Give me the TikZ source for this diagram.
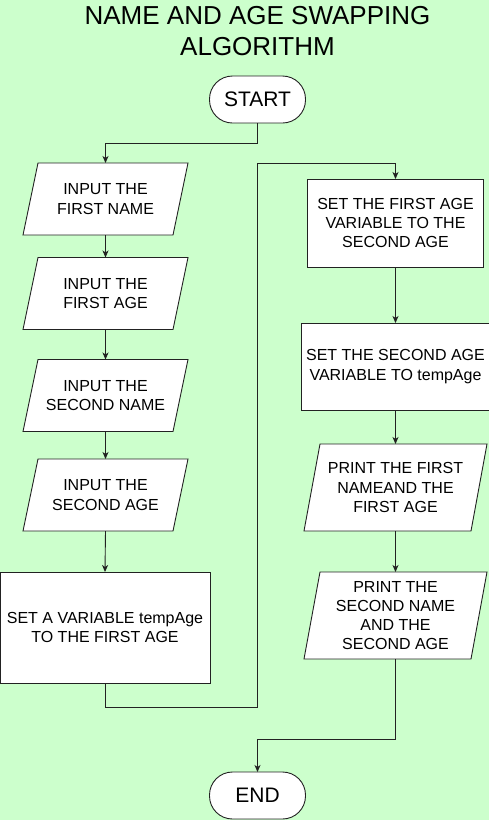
\documentclass[tikz,border=0pt]{standalone}
\usepackage{fontspec}
\setmainfont{Liberation Sans}
\usetikzlibrary{arrows.meta}
\definecolor{bg}{HTML}{CCFFCC}
\definecolor{ln}{HTML}{222222}

% name, x, y, width, height, skew, text
\newcommand{\iobox}[7]{%
  \draw[iodraw] ({#2-#4/2+#6},{#3-#5/2}) -- ({#2+#4/2},{#3-#5/2})
    -- ({#2+#4/2-#6},{#3+#5/2}) -- ({#2-#4/2},{#3+#5/2}) -- cycle;
  \node[inner sep=0pt, outer sep=0pt, minimum height=#5] (#1) at (#2,#3) {#7};
}

\begin{document}
\begin{tikzpicture}[x=1pt, y=-1pt,
    every node/.style={font=\fontsize{16}{19.2}\selectfont, align=center, text=black},
    term/.style={draw=ln, fill=white, line width=0.9pt, rounded corners=23pt,
        minimum width=96pt, minimum height=47pt, inner sep=0pt, outer sep=0pt,
        font=\fontsize{21}{25}\selectfont},
    iodraw/.style={draw=ln, fill=white, line width=0.9pt, line join=miter},
    setbox/.style={draw=ln, fill=white, line width=0.9pt, inner sep=0pt, outer sep=0pt},
    arr/.style={draw=ln, line width=0.9pt, -{Stealth[length=7pt, width=6pt, inset=2pt]}}]
			% Background
			\fill[bg] (0,0) rectangle (489,820);
			\useasboundingbox (0,0) rectangle (489,820);

			% Title
			\node[font=\fontsize{26}{31}\selectfont] (title) at (257.5,31) {NAME AND AGE SWAPPING\\ALGORITHM};

			% Left column
			\node[term] (start) at (257.5,99.5) {START};
			\iobox{in1}{105.5}{199}{165}{72}{15}{INPUT THE\\FIRST NAME}
			\iobox{in2}{105.5}{293.5}{165}{72}{15}{INPUT THE\\FIRST AGE}
			\iobox{in3}{105.5}{395.5}{165}{72}{15}{INPUT THE\\SECOND NAME}
			\iobox{in4}{105.5}{495}{165}{72}{15}{INPUT THE\\SECOND AGE}
			\node[setbox, minimum width=210pt, minimum height=111pt] (temp) at (105,627.5) {SET A VARIABLE tempAge\\TO THE FIRST AGE};

			% Right column
			\node[setbox, minimum width=176pt, minimum height=88pt] (setfirst) at (395.5,223) {SET THE FIRST AGE\\VARIABLE TO THE\\SECOND AGE};
			\node[setbox, minimum width=189pt, minimum height=87pt] (setsecond) at (395.5,366.5) {SET THE SECOND AGE\\VARIABLE TO tempAge};
			\iobox{printfirst}{395.5}{487.5}{183}{87}{16}{PRINT THE FIRST\\NAMEAND THE\\FIRST AGE}
			\iobox{printsecond}{395.5}{615.5}{183}{87}{16}{PRINT THE\\SECOND NAME\\AND THE\\SECOND AGE}
			\node[term] (end) at (257.5,795.5) {END};

			% Connectors
			\coordinate (jointop) at (257.5,163);
			\draw[arr] (start.south) -- ++(0,20) -| (in1.north);
			\draw[arr] (in1.south) -- (in2.north);
			\draw[arr] (in2.south) -- (in3.north);
			\draw[arr] (in3.south) -- (in4.north);
			\draw[arr] (in4.south) -- (temp.north);
			\draw[arr] (temp.south) -- ++(0,24) -| (jointop) -| (setfirst.north);
			\draw[arr] (setfirst.south) -- (setsecond.north);
			\draw[arr] (setsecond.south) -- (printfirst.north);
			\draw[arr] (printfirst.south) -- (printsecond.north);
			\draw[arr] (printsecond.south) -- ++(0,80) -| (end.north);
\end{tikzpicture}
\end{document}
